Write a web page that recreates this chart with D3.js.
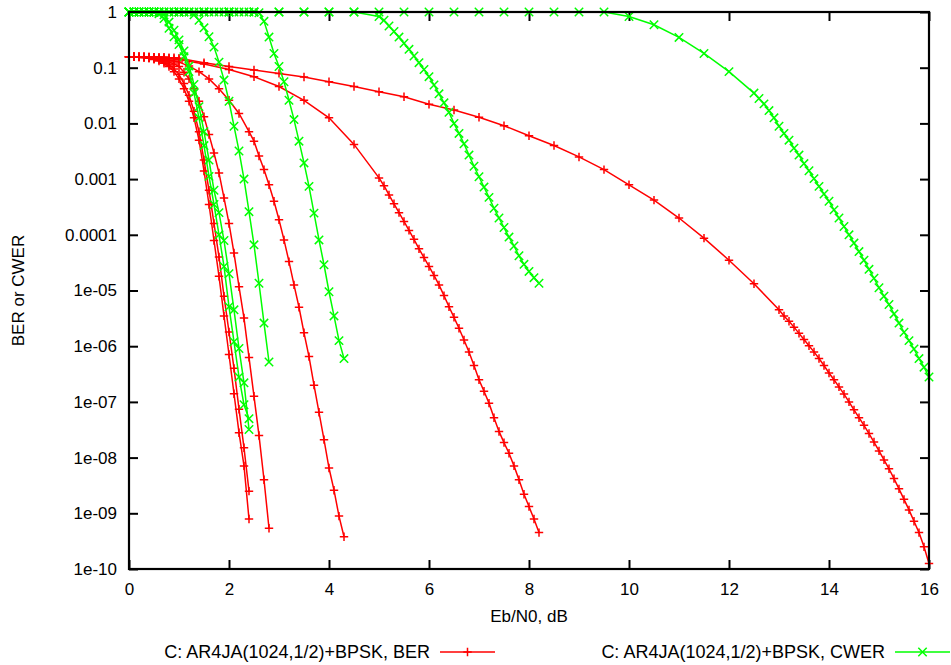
<!DOCTYPE html>
<html>
<head>
<meta charset="utf-8">
<script src="https://cdnjs.cloudflare.com/ajax/libs/d3/7.8.5/d3.min.js"></script>
<style>
  body { margin: 0; background: #fff; }
  svg text { font-family: "Liberation Sans", Arial, sans-serif; font-size: 17px; fill: #000; }
  svg .legend text { font-size: 18px; }
</style>
</head>
<body>
<div id="chart"></div>
<script>
// Eb/N0 (dB) and error rate, one list per decoder curve
const berCurve1 = [[0,0.158],[0.1,0.158],[0.2,0.155],[0.3,0.151],[0.4,0.148],[0.5,0.141],[0.6,0.132],[0.7,0.12],[0.8,0.105],[0.9,0.085],[1.0,0.063],[1.1,0.042],[1.2,0.025],[1.3,0.0126],[1.4,0.005],[1.5,1.4e-3],[1.6,3.5e-4],[1.7,7.9e-5],[1.8,1.8e-5],[1.9,3.5e-6],[2.0,7.1e-7],[2.1,1.4e-7],[2.2,2.8e-8],[2.3,7.1e-9],[2.4,7.9e-10]];
const berCurve2 = [[0,0.158],[0.1,0.158],[0.2,0.155],[0.3,0.155],[0.4,0.151],[0.5,0.145],[0.6,0.138],[0.7,0.126],[0.8,0.112],[0.9,0.095],[1.0,0.076],[1.1,0.052],[1.2,0.032],[1.3,0.0166],[1.4,0.0071],[1.5,2.2e-3],[1.6,6.3e-4],[1.7,1.6e-4],[1.8,4e-5],[1.9,7.9e-6],[2.0,1.8e-6],[2.1,4e-7],[2.2,7.4e-8],[2.3,1.5e-8],[2.4,2.5e-9]];
const berCurve3 = [[0,0.158],[0.1,0.158],[0.2,0.158],[0.3,0.155],[0.4,0.151],[0.5,0.148],[0.6,0.141],[0.7,0.135],[0.8,0.126],[0.9,0.117],[1.0,0.105],[1.1,0.083],[1.2,0.063],[1.3,0.042],[1.4,0.025],[1.5,0.0132],[1.6,6.3e-3],[1.7,2.95e-3],[1.8,1.29e-3],[1.9,4.6e-4],[2.0,1.6e-4],[2.1,4.7e-5],[2.2,1.17e-5],[2.3,3.2e-6],[2.4,6.3e-7],[2.5,1.26e-7],[2.6,2.5e-8],[2.7,4e-9],[2.8,5.4e-10]];
const berCurve4 = [[0,0.158],[0.1,0.158],[0.2,0.158],[0.3,0.158],[0.4,0.155],[0.5,0.151],[0.6,0.148],[0.7,0.145],[0.8,0.138],[0.9,0.132],[1.0,0.126],[1.2,0.107],[1.4,0.085],[1.6,0.063],[1.8,0.042],[2.0,0.026],[2.2,0.0151],[2.4,7.1e-3],[2.5,4.8e-3],[2.6,2.6e-3],[2.7,1.48e-3],[2.8,7.9e-4],[2.9,4e-4],[3.0,1.86e-4],[3.1,8.1e-5],[3.2,3.3e-5],[3.3,1.26e-5],[3.4,5e-6],[3.5,1.74e-6],[3.6,6.5e-7],[3.7,2e-7],[3.8,6.5e-8],[3.9,2.1e-8],[4.0,6.5e-9],[4.1,2.6e-9],[4.2,8.9e-10],[4.3,3.8e-10]];
const berCurve5 = [[0,0.158],[0.1,0.158],[0.2,0.158],[0.3,0.158],[0.4,0.155],[0.5,0.155],[0.6,0.151],[0.7,0.151],[0.8,0.148],[0.9,0.145],[1.0,0.141],[1.5,0.117],[2.0,0.093],[2.5,0.069],[3.0,0.046],[3.5,0.026],[4.0,0.0126],[4.5,4.2e-3],[5.0,1.05e-3],[5.1,7.6e-4],[5.2,5.2e-4],[5.3,3.6e-4],[5.4,2.5e-4],[5.5,1.74e-4],[5.6,1.2e-4],[5.7,8.3e-5],[5.8,5.6e-5],[5.9,3.9e-5],[6.0,2.7e-5],[6.1,1.86e-5],[6.2,1.26e-5],[6.3,8.1e-6],[6.4,5.1e-6],[6.5,3.3e-6],[6.6,2.1e-6],[6.7,1.29e-6],[6.8,7.9e-7],[6.9,4.5e-7],[7.0,2.5e-7],[7.1,1.55e-7],[7.2,9.5e-8],[7.3,5.2e-8],[7.4,2.95e-8],[7.5,1.86e-8],[7.6,1.2e-8],[7.7,7.1e-9],[7.8,4e-9],[7.9,2.2e-9],[8.0,1.32e-9],[8.1,7.9e-10],[8.2,4.5e-10]];
const berCurve6 = [[0,0.158],[0.1,0.158],[0.2,0.158],[0.3,0.158],[0.4,0.158],[0.5,0.155],[0.6,0.155],[0.7,0.155],[0.8,0.151],[0.9,0.151],[1.0,0.148],[1.5,0.123],[2.0,0.105],[2.5,0.091],[3.0,0.079],[3.5,0.068],[4.0,0.056],[4.5,0.046],[5.0,0.037],[5.5,0.03],[6.0,0.022],[6.5,0.0174],[7.0,0.0129],[7.5,9.1e-3],[8.0,6e-3],[8.5,4e-3],[9.0,2.5e-3],[9.5,1.48e-3],[10.0,7.9e-4],[10.5,4.2e-4],[11.0,2e-4],[11.5,8.7e-5],[12.0,3.5e-5],[12.5,1.32e-5],[13.0,4.5e-6],[13.1,3.5e-6],[13.2,2.8e-6],[13.3,2.2e-6],[13.4,1.7e-6],[13.5,1.32e-6],[13.6,1.02e-6],[13.7,7.9e-7],[13.8,6e-7],[13.9,4.5e-7],[14.0,3.3e-7],[14.1,2.5e-7],[14.2,1.86e-7],[14.3,1.38e-7],[14.4,1e-7],[14.5,7.2e-8],[14.6,5.2e-8],[14.7,3.8e-8],[14.8,2.7e-8],[14.9,1.9e-8],[15.0,1.32e-8],[15.1,9.1e-9],[15.2,6.3e-9],[15.3,4.2e-9],[15.4,2.75e-9],[15.5,1.78e-9],[15.6,1.15e-9],[15.7,7.2e-10],[15.8,4.5e-10],[15.9,2.5e-10],[16.0,1.26e-10]];

const cwerCurve1 = [[0,1],[0.1,1],[0.2,1],[0.3,1],[0.4,1],[0.5,1],[0.6,0.93],[0.7,0.76],[0.8,0.51],[0.9,0.36],[1.0,0.26],[1.1,0.158],[1.2,0.085],[1.3,0.035],[1.4,0.0126],[1.5,4e-3],[1.6,1.12e-3],[1.7,3.5e-4],[1.8,1e-4],[1.9,2.7e-5],[2.0,5.1e-6],[2.1,1.2e-6],[2.2,2.8e-7],[2.3,8.9e-8],[2.4,5e-8]];
const cwerCurve2 = [[0,1],[0.1,1],[0.2,1],[0.3,1],[0.4,1],[0.5,1],[0.6,1],[0.7,0.89],[0.8,0.66],[0.9,0.47],[1.0,0.316],[1.1,0.2],[1.2,0.107],[1.3,0.05],[1.4,0.02],[1.5,7.1e-3],[1.6,2.2e-3],[1.7,6.3e-4],[1.8,2.5e-4],[1.9,7.9e-5],[2.0,2e-5],[2.1,4.5e-6],[2.2,9.1e-7],[2.3,2.2e-7],[2.4,3.2e-8]];
const cwerCurve3 = [[0,1],[0.1,1],[0.2,1],[0.3,1],[0.4,1],[0.5,1],[0.6,1],[0.7,1],[0.8,1],[0.9,1],[1.0,1],[1.1,1],[1.2,1],[1.3,0.89],[1.4,0.71],[1.5,0.52],[1.6,0.36],[1.7,0.234],[1.8,0.126],[1.9,0.06],[2.0,0.025],[2.1,8.9e-3],[2.2,3.2e-3],[2.3,1e-3],[2.4,2.6e-4],[2.5,6.6e-5],[2.6,1.35e-5],[2.7,2.6e-6],[2.8,5.2e-7]];
const cwerCurve4 = [[0,1],[0.1,1],[0.2,1],[0.3,1],[0.4,1],[0.5,1],[0.6,1],[0.7,1],[0.8,1],[0.9,1],[1.0,1],[1.1,1],[1.2,1],[1.3,1],[1.4,1],[1.5,1],[1.6,1],[1.7,1],[1.8,1],[1.9,1],[2.0,1],[2.1,1],[2.2,1],[2.3,1],[2.4,1],[2.5,1],[2.6,0.97],[2.7,0.68],[2.8,0.355],[2.9,0.18],[3.0,0.105],[3.1,0.056],[3.2,0.026],[3.3,0.0117],[3.4,4.8e-3],[3.5,1.95e-3],[3.6,7.4e-4],[3.7,2.45e-4],[3.8,8.1e-5],[3.9,2.9e-5],[4.0,9.5e-6],[4.1,3.5e-6],[4.2,1.26e-6],[4.3,6e-7]];
const cwerCurve5 = [[0,1],[0.5,1],[1.0,1],[1.5,1],[2.0,1],[2.5,1],[3.0,1],[3.5,1],[4.0,1],[4.5,1],[5.0,0.83],[5.1,0.71],[5.2,0.56],[5.3,0.447],[5.4,0.355],[5.5,0.275],[5.6,0.214],[5.7,0.162],[5.8,0.123],[5.9,0.093],[6.0,0.069],[6.1,0.049],[6.2,0.034],[6.3,0.0234],[6.4,0.0158],[6.5,0.01],[6.6,6.6e-3],[6.7,4.3e-3],[6.8,2.7e-3],[6.9,1.7e-3],[7.0,1.1e-3],[7.1,7.2e-4],[7.2,4.7e-4],[7.3,3e-4],[7.4,2e-4],[7.5,1.35e-4],[7.6,9.1e-5],[7.7,6.3e-5],[7.8,4.2e-5],[7.9,2.95e-5],[8.0,2.2e-5],[8.1,1.7e-5],[8.2,1.35e-5]];
const cwerCurve6 = [[0,1],[0.5,1],[1.0,1],[1.5,1],[2.0,1],[2.5,1],[3.0,1],[3.5,1],[4.0,1],[4.5,1],[5.0,1],[5.5,1],[6.0,1],[6.5,1],[7.0,1],[7.5,1],[8.0,1],[8.5,1],[9.0,1],[9.5,1],[10.0,0.83],[10.5,0.59],[11.0,0.35],[11.5,0.18],[12.0,0.085],[12.5,0.035],[12.6,0.028],[12.7,0.0224],[12.8,0.017],[12.9,0.0126],[13.0,8.9e-3],[13.1,6.6e-3],[13.2,5e-3],[13.3,3.6e-3],[13.4,2.7e-3],[13.5,1.9e-3],[13.6,1.41e-3],[13.7,1.02e-3],[13.8,7.4e-4],[13.9,5.4e-4],[14.0,4e-4],[14.1,2.8e-4],[14.2,2e-4],[14.3,1.41e-4],[14.4,1e-4],[14.5,7.1e-5],[14.6,5e-5],[14.7,3.5e-5],[14.8,2.4e-5],[14.9,1.66e-5],[15.0,1.12e-5],[15.1,7.9e-6],[15.2,5.6e-6],[15.3,3.8e-6],[15.4,2.6e-6],[15.5,1.78e-6],[15.6,1.26e-6],[15.7,8.9e-7],[15.8,6e-7],[15.9,4.2e-7],[16.0,2.8e-7]];

const berCurves = [berCurve1, berCurve2, berCurve3, berCurve4, berCurve5, berCurve6];
const cwerCurves = [cwerCurve1, cwerCurve2, cwerCurve3, cwerCurve4, cwerCurve5, cwerCurve6];

const xTicks = [0, 2, 4, 6, 8, 10, 12, 14, 16];
const yTicks = [1, 0.1, 0.01, 0.001, 0.0001, 1e-5, 1e-6, 1e-7, 1e-8, 1e-9, 1e-10];
const yTickLabels = ['1', '0.1', '0.01', '0.001', '0.0001', '1e-05', '1e-06', '1e-07', '1e-08', '1e-09', '1e-10'];
const legendLabels = ['C: AR4JA(1024,1/2)+BPSK, BER', 'C: AR4JA(1024,1/2)+BPSK, CWER'];

class BerChart {
  constructor(_config) {
    this.config = {
      parentElement: _config.parentElement,
      containerWidth: _config.containerWidth || 951,
      containerHeight: _config.containerHeight || 665,
      margin: _config.margin || { top: 12, right: 22, bottom: 96, left: 129 }
    };
    this.initVis();
  }

  initVis() {
    let vis = this;

    vis.width = vis.config.containerWidth - vis.config.margin.left - vis.config.margin.right;
    vis.height = vis.config.containerHeight - vis.config.margin.top - vis.config.margin.bottom;

    vis.svg = d3.select(vis.config.parentElement).append('svg')
      .attr('width', vis.config.containerWidth)
      .attr('height', vis.config.containerHeight);

    vis.chart = vis.svg.append('g')
      .attr('transform', `translate(${vis.config.margin.left},${vis.config.margin.top})`);

    vis.xScale = d3.scaleLinear().domain([0, 16]).range([0, vis.width]);
    vis.yScale = d3.scaleLog().domain([1e-10, 1]).range([vis.height, 0]);

    vis.line = d3.line()
      .x(d => vis.xScale(d[0]))
      .y(d => vis.yScale(d[1]));

    vis.markerSize = 4.2;
    vis.plusPath = `M${-vis.markerSize},0H${vis.markerSize}M0,${-vis.markerSize}V${vis.markerSize}`;
    vis.crossPath = `M${-vis.markerSize},${-vis.markerSize}L${vis.markerSize},${vis.markerSize}M${-vis.markerSize},${vis.markerSize}L${vis.markerSize},${-vis.markerSize}`;
  }

  renderVis() {
    let vis = this;
    const tickLen = 9;

    // ticks on all four sides, pointing inwards (gnuplot style)
    const xAxisBottom = d3.axisBottom(vis.xScale).tickValues(xTicks).tickSize(-tickLen).tickFormat(d => d).tickPadding(14);
    const xAxisTop = d3.axisTop(vis.xScale).tickValues(xTicks).tickSize(-tickLen).tickFormat('');
    const yAxisLeft = d3.axisLeft(vis.yScale).tickValues(yTicks).tickSize(-tickLen)
      .tickFormat((d, i) => yTickLabels[i]).tickPadding(12);
    const yAxisRight = d3.axisRight(vis.yScale).tickValues(yTicks).tickSize(-tickLen).tickFormat('');

    const axes = [
      [xAxisBottom, `translate(0,${vis.height})`],
      [xAxisTop, 'translate(0,0)'],
      [yAxisLeft, 'translate(0,0)'],
      [yAxisRight, `translate(${vis.width},0)`]
    ];
    axes.forEach(([ax, tr]) => {
      const g = vis.chart.append('g').attr('transform', tr).call(ax);
      g.select('.domain').remove();
      g.selectAll('.tick line').attr('stroke', '#000').attr('stroke-width', 2);
      g.selectAll('.tick text').attr('font-size', null).attr('font-family', null);
    });

    const drawSeries = (curves, color, markerPath, cls) => {
      const grp = vis.chart.append('g').attr('class', cls);
      grp.selectAll('.curve')
        .data(curves)
        .join('path')
        .attr('class', 'curve')
        .attr('d', vis.line)
        .attr('fill', 'none')
        .attr('stroke', color)
        .attr('stroke-width', 1.5);
      grp.selectAll('.pts')
        .data(curves)
        .join('g')
        .attr('class', 'pts')
        .selectAll('path')
        .data(d => d)
        .join('path')
        .attr('d', markerPath)
        .attr('transform', d => `translate(${vis.xScale(d[0])},${vis.yScale(d[1])})`)
        .attr('fill', 'none')
        .attr('stroke', color)
        .attr('stroke-width', 1.5);
    };

    drawSeries(berCurves, '#ff0000', vis.plusPath, 'ber');
    drawSeries(cwerCurves, '#00ff00', vis.crossPath, 'cwer');

    // plot border
    vis.chart.append('rect')
      .attr('x', 0)
      .attr('y', 0)
      .attr('width', vis.width)
      .attr('height', vis.height)
      .attr('fill', 'none')
      .attr('stroke', '#000')
      .attr('stroke-width', 2.2);

    vis.chart.append('text')
      .attr('x', vis.width / 2)
      .attr('y', vis.height + 53)
      .attr('text-anchor', 'middle')
      .text('Eb/N0, dB');

    vis.svg.append('text')
      .attr('transform', `translate(24,${vis.config.margin.top + vis.height / 2}) rotate(-90)`)
      .attr('text-anchor', 'middle')
      .text('BER or CWER');

    // legend under the plot
    const legendItems = [
      { label: legendLabels[0], color: '#ff0000', marker: vis.plusPath, right: 430 },
      { label: legendLabels[1], color: '#00ff00', marker: vis.crossPath, right: 885 }
    ];
    const legend = vis.svg.append('g').attr('class', 'legend');
    const item = legend.selectAll('.item')
      .data(legendItems)
      .join('g')
      .attr('class', 'item')
      .attr('transform', d => `translate(${d.right},652)`);
    item.append('text')
      .attr('text-anchor', 'end')
      .attr('dy', '0.35em')
      .text(d => d.label);
    item.append('line')
      .attr('x1', 10).attr('x2', 65)
      .attr('stroke', d => d.color)
      .attr('stroke-width', 1.5);
    item.append('path')
      .attr('d', d => d.marker)
      .attr('transform', 'translate(37.5,0)')
      .attr('fill', 'none')
      .attr('stroke', d => d.color)
      .attr('stroke-width', 1.5);
  }
}

const chart = new BerChart({ parentElement: '#chart' });
chart.renderVis();
</script>
</body>
</html>
